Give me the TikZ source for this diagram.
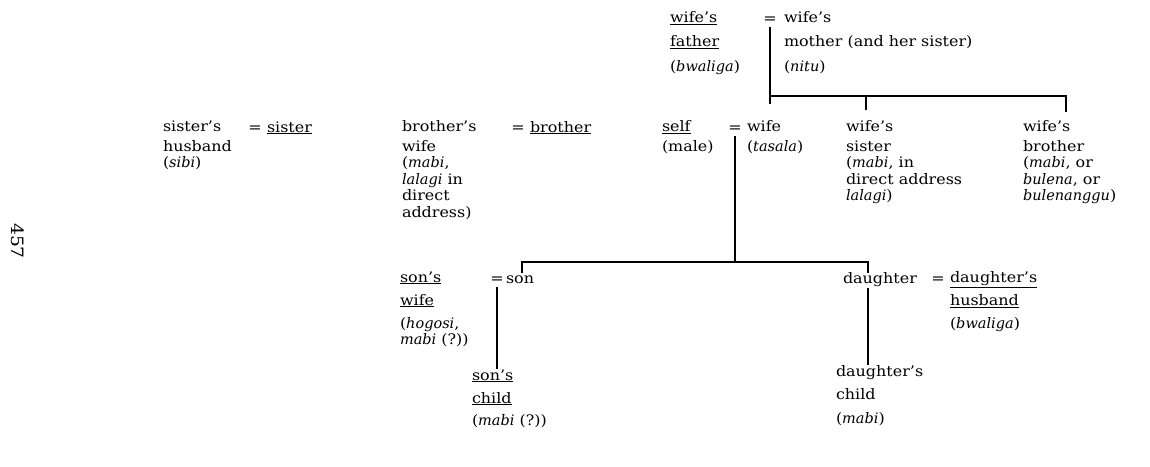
\documentclass[tikz,border=0pt]{standalone}
\usepackage{fontspec}
\setmainfont{DejaVu Serif}[FakeStretch=1.1, ItalicFeatures={FakeStretch=1.0}]
\usepackage{tikz}

\begin{document}
\begin{tikzpicture}[
  x=1pt, y=-1pt,
  kin/.style={
    anchor=north west,
    yshift=11.55pt,
    align=left,
    inner sep=0pt,
    outer sep=0pt,
    font=\fontsize{14.5}{16.5}\selectfont,
    execute at begin node=\strut
  },
  eq/.style={
    anchor=base,
    inner sep=0pt,
    outer sep=4pt,
    font=\fontsize{14.5}{16.5}\selectfont
  },
  tie/.style={line width=2.3pt}
]
\useasboundingbox (0,0) rectangle (1150,466);

% wife's parents
\node[kin] (wfather) at (670,23) {\underline{wife's}\\[8pt]\underline{father}\\[8pt](\textit{bwaliga})};
\node[eq] (eqp) at (770,23) {=};
\node[kin] (wmother) at (784,23) {wife's\\[8pt]mother (and her sister)\\[8pt](\textit{nitu})};

% ego's generation
\node[kin] (sishus) at (163,132) {sister's\\[3.5pt]husband\\(\textit{sibi})};
\node[eq] (eqs) at (255,132) {=};
\node[kin] (sister) at (267,132) {\underline{sister}};
\node[kin] (browife) at (402,132) {brother's\\[3.5pt]wife\\(\textit{mabi},\\\textit{lalagi} in\\direct\\address)};
\node[eq] (eqb) at (518,132) {=};
\node[kin] (brother) at (530,132) {\underline{brother}};
\node[kin] (self) at (662,132) {\underline{self}\\[3.5pt](male)};
\node[eq] (eqw) at (735,132) {=};
\node[kin] (wife) at (747,132) {wife\\[3.5pt](\textit{tasala})};
\node[kin] (wsister) at (846,132) {wife's\\[3.5pt]sister\\(\textit{mabi}, in\\direct address\\\textit{lalagi})};
\node[kin] (wbrother) at (1023,132) {wife's\\[3.5pt]brother\\(\textit{mabi}, or\\\textit{bulena}, or\\\textit{bulenanggu})};

% children
\node[kin] (sonwife) at (400,283) {\underline{son's}\\[6.5pt]\underline{wife}\\[6.5pt](\textit{hogosi},\\\textit{mabi} (?))};
\node[eq] (eqsn) at (497,283) {=};
\node[kin] (son) at (506,283) {son};
\node[kin] (dau) at (843,283) {daughter};
\node[eq] (eqd) at (938,283) {=};
\node[kin] (dauhus) at (950,283) {\underline{daughter's}\\[7pt]\underline{husband}\\[6pt](\textit{bwaliga})};

% grandchildren
\node[kin] (sonchild) at (472,381) {\underline{son's}\\[6.5pt]\underline{child}\\[6pt](\textit{mabi} (?))};
\node[kin] (dauchild) at (836,377) {daughter's\\[7pt]child\\[7pt](\textit{mabi})};

\node[rotate=-90, font=\fontsize{17}{20}\selectfont] (page) at (18,241) {457};

\coordinate (sibs) at (770,96);
\coordinate (wtick) at (770,104);
\coordinate (stick) at (866,110);
\coordinate (btick) at (1066,112);
\coordinate (kids) at (735,262);
\coordinate (sntick) at (522,273);
\coordinate (dtick) at (868,273);

\draw[tie] (eqp.south) -- (wtick);
\draw[tie] (sibs) -- (btick |- sibs) -- (btick);
\draw[tie] (stick |- sibs) -- (stick);
\draw[tie] (eqw.south) -- (kids);
\draw[tie] (sntick) -- (sntick |- kids) -- (dtick |- kids) -- (dtick);
\draw[tie] (eqsn.south) -- (eqsn.south |- sonchild.north);
\draw[tie] (dau.south -| dtick) -- (dauchild.north -| dtick);
\end{tikzpicture}
\end{document}
